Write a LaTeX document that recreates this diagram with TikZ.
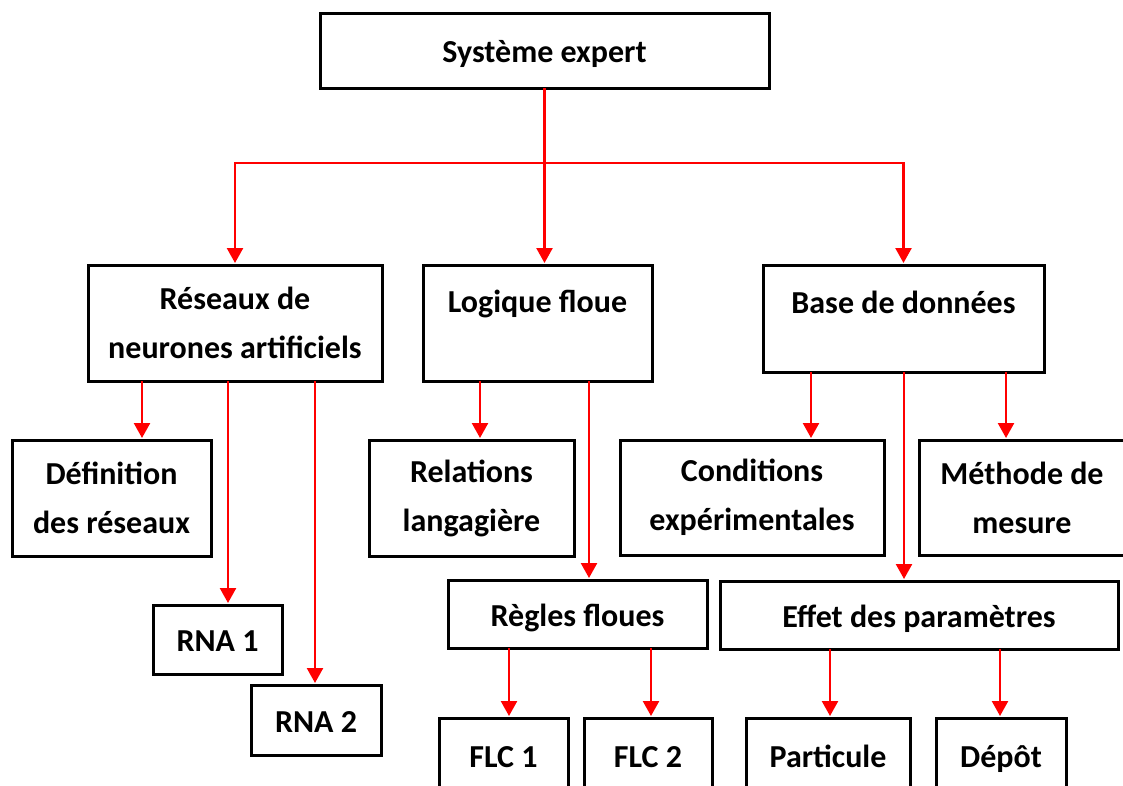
\documentclass[tikz,border=0pt]{standalone}
\usepackage{fontspec}
\setmainfont{Carlito}
\usetikzlibrary{arrows.meta}
\begin{document}
\begin{tikzpicture}[x=1pt,y=-1pt,
  box/.style={draw=black, line width=3pt, rectangle, inner sep=0pt, outer sep=0pt,
    align=center, font=\bfseries\fontsize{32}{49}\selectfont},
  oneline/.style={box, text height=26pt, text depth=2pt},
  link/.style={draw=red, line width=2.4pt, -{Triangle[length=15pt,width=16pt]}, shorten >=2pt},
  plain/.style={draw=red, line width=2.4pt}]
\useasboundingbox (0,0) rectangle (1123,785);

% level 0
\node[oneline, minimum width=449pt, minimum height=75pt] (se) at (544.5,50.5) {Système expert};

% level 1
\node[box, minimum width=294pt, minimum height=116pt] (rn) at (235,323) {Réseaux de\\neurones artificiels};
\node[box, minimum width=229pt, minimum height=116pt] (lf) at (537.5,323) {Logique floue\\[-6pt]\mbox{}};
\node[box, minimum width=281pt, minimum height=107pt] (bd) at (903.5,318.5) {Base de données\\[-16pt]\mbox{}};

% level 2
\node[box, minimum width=199pt, minimum height=116pt] (def) at (111.5,498) {Définition\\des réseaux};
\node[box, minimum width=205pt, minimum height=116pt] (rel) at (471.5,498) {Relations\\langagière};
\node[box, minimum width=264pt, minimum height=115pt] (cond) at (752,497.5) {Conditions\\expérimentales};
\node[box, minimum width=206pt, minimum height=115pt] (meth) at (1022,497.5) {Méthode de\\mesure};

% level 3
\node[oneline, minimum width=129pt, minimum height=69pt] (rna1) at (217.5,639.5) {RNA 1};
\node[oneline, minimum width=130pt, minimum height=70pt] (rna2) at (316,720) {RNA 2};
\node[oneline, minimum width=259pt, minimum height=68pt] (reg) at (577.5,614) {Règles floues};
\node[oneline, minimum width=398pt, minimum height=68pt] (eff) at (919,615) {Effet des paramètres};

% level 4
\node[oneline, minimum width=129pt, minimum height=74pt] (flc1) at (503.5,755) {FLC 1};
\node[oneline, minimum width=128pt, minimum height=74pt] (flc2) at (648,755) {FLC 2};
\node[oneline, minimum width=164pt, minimum height=74pt] (part) at (828,755) {Particule};
\node[oneline, minimum width=130pt, minimum height=74pt] (dep) at (1001,755) {Dépôt};

% connectors from the root
\coordinate (hub) at ([yshift=-75pt]se.south);
\draw[plain] (se.south) -- (hub);
\draw[link] (hub) -| (rn.north);
\draw[link] (hub) -| (bd.north);
\draw[link] (hub) -- (hub |- lf.north);

% neural networks branch
\draw[link] (rn.south -| 142,0) -- (def.north -| 142,0);
\draw[link] (rn.south -| 228,0) -- (rna1.north -| 228,0);
\draw[link] (rn.south -| 315,0) -- (rna2.north -| 315,0);

% fuzzy logic branch
\draw[link] (lf.south -| 480,0) -- (rel.north -| 480,0);
\draw[link] (lf.south -| 589,0) -- (reg.north -| 589,0);
\draw[link] (reg.south -| 509,0) -- (flc1.north -| 509,0);
\draw[link] (reg.south -| 651,0) -- (flc2.north -| 651,0);

% database branch
\draw[link] (bd.south -| 811,0) -- (cond.north -| 811,0);
\draw[link] (bd.south -| 904,0) -- (eff.north -| 904,0);
\draw[link] (bd.south -| 1006,0) -- (meth.north -| 1006,0);
\draw[link] (eff.south -| 830,0) -- (part.north -| 830,0);
\draw[link] (eff.south -| 1000,0) -- (dep.north -| 1000,0);
\end{tikzpicture}
\end{document}
